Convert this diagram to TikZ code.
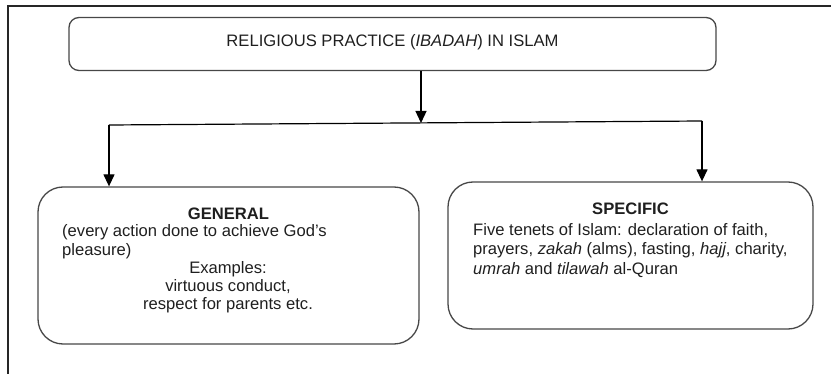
\documentclass[tikz,border=0pt]{standalone}
\usepackage{fontspec}
\setmainfont{Liberation Sans}
\usetikzlibrary{arrows.meta}
\begin{document}
\begin{tikzpicture}[x=1pt,y=-1pt,
  box/.style={draw=black!72, line width=1.3pt, rounded corners=#1, inner sep=0pt},
  txt/.style={inner sep=0pt, text=black!88, font=\fontsize{16.6}{18.5}\selectfont},
  conn/.style={draw=black, line width=1.3pt, -{Triangle[width=11pt,length=12pt]}},
  link/.style={draw=black, line width=1.2pt},
  frame/.style={draw=black!85, line width=1.3pt}]
  \useasboundingbox (0,0) rectangle (831,374);

  % outer frame (left and top sides)
  \coordinate (fb) at (8,374);
  \coordinate (ft) at (8,6);
  \coordinate (fr) at (831,6);
  \draw[frame] (fb) -- (ft) -- (fr);

  % boxes
  \node[box=10pt, minimum width=647pt, minimum height=53pt] (title) at (392.5,44) {};
  \node[box=25pt, minimum width=381pt, minimum height=157pt] (general) at (228.5,265.5) {};
  \node[box=25pt, minimum width=365pt, minimum height=147pt] (specific) at (630.5,255.5) {};

  % title text
  \node[txt, anchor=base] (ttl) at (392.5,47) {RELIGIOUS PRACTICE (\textit{IBADAH}) IN ISLAM};

  % general box text
  \node[txt, anchor=base] (gh) at (228.5,219.5) {\textbf{GENERAL}};
  \node[txt, anchor=base west] (g1) at (62,237) {(every action done to achieve God’s};
  \node[txt, anchor=base west] (g2) at (62,255.5) {pleasure)};
  \node[txt, anchor=base] (g3) at (228,274) {Examples:};
  \node[txt, anchor=base] (g4) at (228,292) {virtuous conduct,};
  \node[txt, anchor=base] (g5) at (228,310) {respect for parents etc.};

  % specific box text
  \node[txt, anchor=base] (sh) at (630.5,215) {\textbf{SPECIFIC}};
  \node[txt, anchor=base west] (s1) at (473,235.5) {Five tenets of Islam: declaration of faith,};
  \node[txt, anchor=base west] (s2) at (473,255) {prayers, \textit{zakah} (alms), fasting, \textit{hajj}, charity,};
  \node[txt, anchor=base west] (s3) at (473,274.5) {\textit{umrah} and \textit{tilawah} al-Quran};

  % connectors
  \coordinate (jl) at (109,125);
  \coordinate (jr) at (702,121);
  \coordinate (jm) at (421,123);
  \draw[conn] (title.south -| jm) -- (jm);
  \draw[link] (jl) -- (jr);
  \draw[conn] (jl) -- (jl |- general.north);
  \draw[conn] (jr) -- (jr |- specific.north);
\end{tikzpicture}
\end{document}
